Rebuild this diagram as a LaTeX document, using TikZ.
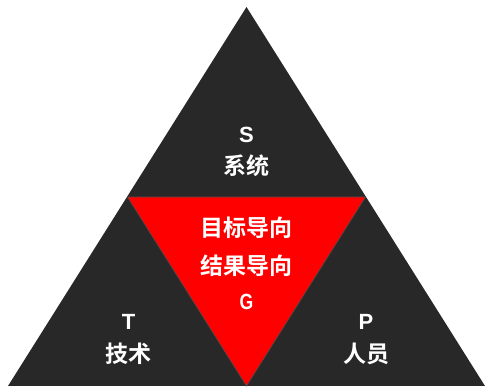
\documentclass[tikz,border=0pt]{standalone}
\usepackage{fontspec}
\newfontfamily\cjk{Noto Sans CJK SC}[BoldFont={Noto Sans CJK SC Bold}]
\newfontfamily\lat{Liberation Sans}
\definecolor{darkbg}{HTML}{282828}
\definecolor{redfill}{HTML}{FF0000}
\begin{document}
\begin{tikzpicture}[x=1pt,y=-1pt,
  lbl/.style={text=white,font=\cjk\bfseries\fontsize{23}{26}\selectfont,inner sep=0pt,anchor=center},
  ltr/.style={text=white,font=\lat\bfseries\fontsize{22}{26}\selectfont,inner sep=0pt,anchor=center}]
\useasboundingbox (0,0) rectangle (488,387);
\coordinate (top) at (246.5,7);
\coordinate (bl) at (8,386);
\coordinate (br) at (485,386);
\coordinate (ml) at (127.5,197);
\coordinate (mr) at (365.5,197);
\coordinate (bm) at (246.5,386);
\fill[darkbg] (top) -- (bl) -- (br) -- cycle;
\fill[redfill] (ml) -- (mr) -- (bm) -- cycle;
\draw[black!70,line width=0.6pt] (ml) -- (mr) -- (bm) -- cycle;
\node[ltr] (s) at (246.5,135) {S};
\node[lbl] (sys) at (246.5,166) {系统};
\node[lbl] (g1) at (246.5,228) {目标导向};
\node[lbl] (g2) at (246.5,266) {结果导向};
\node[ltr,xscale=0.8] (g) at (246.5,302) {G};
\node[ltr] (t) at (128.5,322) {T};
\node[lbl] (tech) at (128.5,354) {技术};
\node[ltr] (p) at (366,322) {P};
\node[lbl] (ppl) at (366,354) {人员};
\end{tikzpicture}
\end{document}
